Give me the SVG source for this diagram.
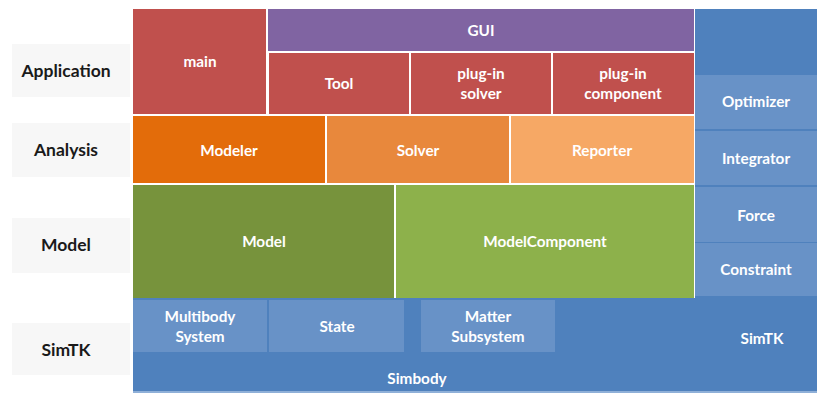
<svg xmlns="http://www.w3.org/2000/svg" width="817" height="393" viewBox="0 0 817 393">
<style>
.lbl{font-family:Lato,"Liberation Sans",sans-serif;font-weight:bold;font-size:17.5px;fill:#1a1a1a;text-anchor:middle}
.t{font-family:Lato,"Liberation Sans",sans-serif;font-weight:bold;font-size:15.3px;fill:#ffffff;text-anchor:middle}
.lbg{fill:#f7f7f7}
.red{fill:#c0504d}
.pur{fill:#8064a2}
.dblue{fill:#4f81bd}
.lblue{fill:#6892c7}
</style>
<rect width="817" height="393" fill="#ffffff"/>
<g id="label-application"><rect class="lbg" x="12" y="44" width="118" height="53"/><text class="lbl" x="66" y="77">Application</text></g>
<g id="label-analysis"><rect class="lbg" x="12" y="123" width="118" height="54"/><text class="lbl" x="66" y="156">Analysis</text></g>
<g id="label-model"><rect class="lbg" x="12" y="218" width="118" height="55"/><text class="lbl" x="66" y="251">Model</text></g>
<g id="label-simtk"><rect class="lbg" x="12" y="323" width="118" height="52"/><text class="lbl" x="66" y="356">SimTK</text></g>

<g id="simtk"><rect class="dblue" x="695" y="9" width="122" height="289"/><rect class="dblue" x="133" y="298" width="684" height="94"/><rect x="133" y="391" width="684" height="2" fill="#8fb0d8"/><text class="t" x="762" y="344">SimTK</text></g>
<g id="simbody"><text class="t" x="417" y="384">Simbody</text></g>
<g id="main"><rect class="red" x="133" y="9" width="133" height="105"/><text class="t" x="200" y="67">main</text></g>
<g id="gui"><rect class="pur" x="268" y="9" width="426" height="42"/><text class="t" x="481" y="36">GUI</text></g>
<g id="tool"><rect class="red" x="269" y="53" width="140" height="61"/><text class="t" x="339" y="89">Tool</text></g>
<g id="plugin-solver"><rect class="red" x="411" y="53" width="140" height="61"/><text class="t" x="481" y="79">plug-in</text><text class="t" x="481" y="99">solver</text></g>
<g id="plugin-component"><rect class="red" x="553" y="53" width="141" height="61"/><text class="t" x="623" y="79">plug-in</text><text class="t" x="623" y="99">component</text></g>
<g id="modeler"><rect x="133" y="116" width="192" height="67" fill="#e36c0a"/><text class="t" x="229" y="156">Modeler</text></g>
<g id="solver"><rect x="327" y="116" width="182" height="67" fill="#e8883c"/><text class="t" x="418" y="156">Solver</text></g>
<g id="reporter"><rect x="511" y="116" width="183" height="67" fill="#f6a865"/><text class="t" x="602" y="156">Reporter</text></g>
<g id="model"><rect x="133" y="185" width="261" height="113" fill="#77933c"/><text class="t" x="264" y="247">Model</text></g>
<g id="modelcomponent"><rect x="396" y="185" width="298" height="113" fill="#8db14b"/><text class="t" x="545" y="247">ModelComponent</text></g>
<g id="optimizer"><rect class="lblue" x="695" y="75" width="122" height="54"/><text class="t" x="756" y="107">Optimizer</text></g>
<g id="integrator"><rect class="lblue" x="695" y="131" width="122" height="54"/><text class="t" x="756" y="164">Integrator</text></g>
<g id="force"><rect class="lblue" x="695" y="187" width="122" height="55"/><text class="t" x="756" y="221">Force</text></g>
<g id="constraint"><rect class="lblue" x="695" y="243" width="122" height="53"/><text class="t" x="756" y="275">Constraint</text></g>
<g id="multibody-system"><rect class="lblue" x="133" y="300" width="134" height="52"/><text class="t" x="200" y="322">Multibody</text><text class="t" x="200" y="342">System</text></g>
<g id="state"><rect class="lblue" x="269" y="300" width="135" height="52"/><text class="t" x="337" y="332">State</text></g>
<g id="matter-subsystem"><rect class="lblue" x="421" y="300" width="134" height="52"/><text class="t" x="488" y="322">Matter</text><text class="t" x="488" y="342">Subsystem</text></g>
<g id="connectors"></g>
</svg>
